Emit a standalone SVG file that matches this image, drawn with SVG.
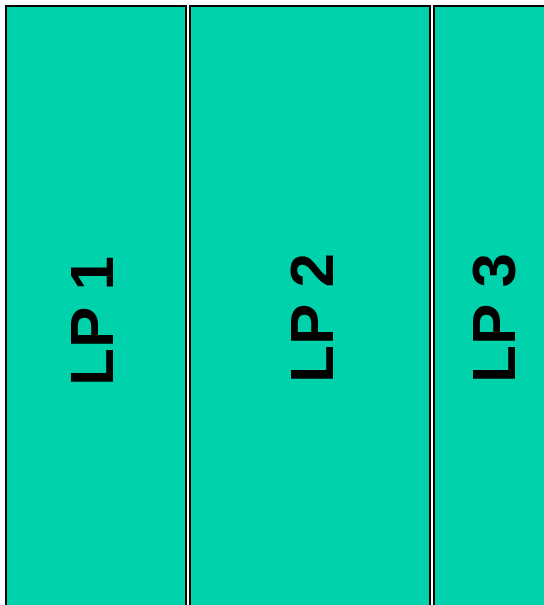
<svg xmlns="http://www.w3.org/2000/svg" width="544" height="605" viewBox="0 0 544 605">
<style>
.lp{fill:#00D2AC;stroke:#000;stroke-width:2}
.t{font-family:"Liberation Sans",Arial,sans-serif;font-weight:bold;font-size:62px;fill:#000;text-anchor:middle}
</style>
<rect width="544" height="605" fill="#fff"/>
<g id="lp1"><rect class="lp" x="6" y="6" width="180" height="620"/><text class="t" transform="translate(113,321) rotate(-90)">LP 1</text></g>
<g id="lp2"><rect class="lp" x="190" y="6" width="240" height="620"/><text class="t" transform="translate(333,318) rotate(-90)">LP 2</text></g>
<g id="lp3"><rect class="lp" x="434" y="6" width="130" height="620"/><text class="t" transform="translate(515,318) rotate(-90)">LP 3</text></g>
<g id="connectors"></g>
</svg>
